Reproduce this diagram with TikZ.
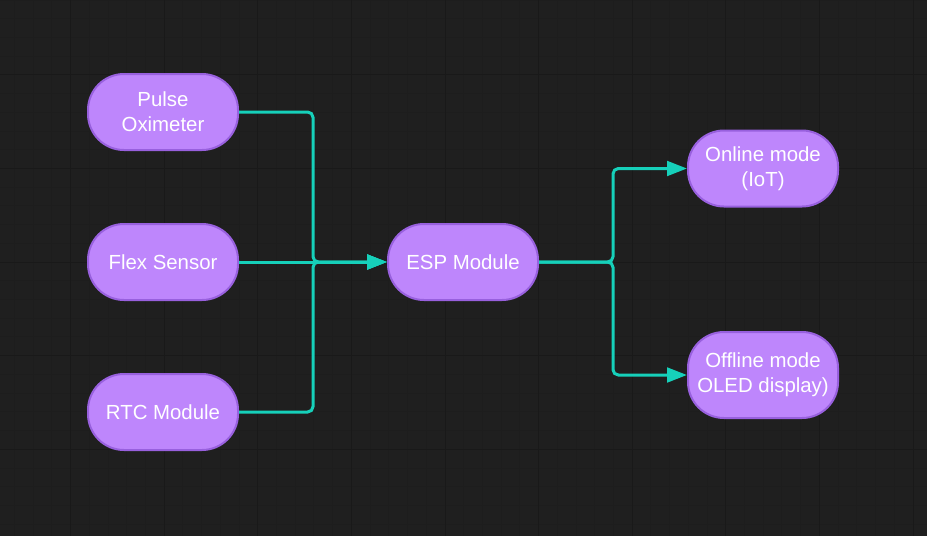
\documentclass[tikz,border=0pt]{standalone}
\usepackage{fontspec}
\setmainfont{Liberation Sans}
\usetikzlibrary{arrows.meta}
\definecolor{bgdark}{RGB}{31,31,31}
\definecolor{gridminor}{RGB}{29,29,29}
\definecolor{gridmajor}{RGB}{25,25,25}
\definecolor{boxfill}{RGB}{190,134,252}
\definecolor{boxline}{RGB}{152,96,222}
\definecolor{flowline}{RGB}{22,208,186}

\begin{document}
\begin{tikzpicture}[x=0.75pt,y=0.75pt,yscale=-1,xscale=1,
  block/.style={draw=boxline, line width=1.5pt, fill=boxfill, rounded corners=27pt,
    minimum width=112.5pt, minimum height=57pt, inner sep=0pt, align=center,
    text=white, font=\fontsize{15.3}{18.75}\selectfont},
  flow/.style={draw=flowline, line width=2.25pt, rounded corners=4pt,
    -{Triangle[length=15pt,width=11pt]}}]

%Background and grid
\useasboundingbox (0,0) rectangle (927,536);
\clip (0,0) rectangle (927,536);
\fill[bgdark] (0,0) rectangle (927,536);
\foreach \k in {0,...,49} \draw[gridminor, line width=0.75pt] ({14.44+\k*18.72},0) -- ++(0,536);
\foreach \k in {0,...,28} \draw[gridminor, line width=0.75pt] (0,{\k*18.72}) -- ++(927,0);
\foreach \k in {-1,...,9} \draw[gridmajor, line width=0.75pt] ({70.6+\k*93.6},0) -- ++(0,536);
\foreach \k in {0,...,4} \draw[gridmajor, line width=0.75pt] (0,{74.8+\k*93.6}) -- ++(927,0);

%Blocks
\node[block] (pulse) at (163,112) {Pulse\\Oximeter};
\node[block] (flex) at (163,262) {Flex Sensor};
\node[block] (rtc) at (163,412) {RTC Module};
\node[block] (esp) at (463,262) {ESP Module};
\node[block] (online) at (763,168.5) {Online mode\\(IoT)};
\node[block, minimum height=64.5pt] (offline) at (763,375) {Offline mode\\OLED display)};

%Junctions
\coordinate (jin) at (313,262);
\coordinate (jout) at (613,262);

%Connectors
\draw[flow] (pulse.east) -| (jin) -- (esp.west);
\draw[flow] (flex.east) -- (esp.west);
\draw[flow] (rtc.east) -| (jin) -- (esp.west);
\draw[flow] (esp.east) -- (jout) |- (online.west);
\draw[flow] (esp.east) -- (jout) |- (offline.west);

\end{tikzpicture}
\end{document}
